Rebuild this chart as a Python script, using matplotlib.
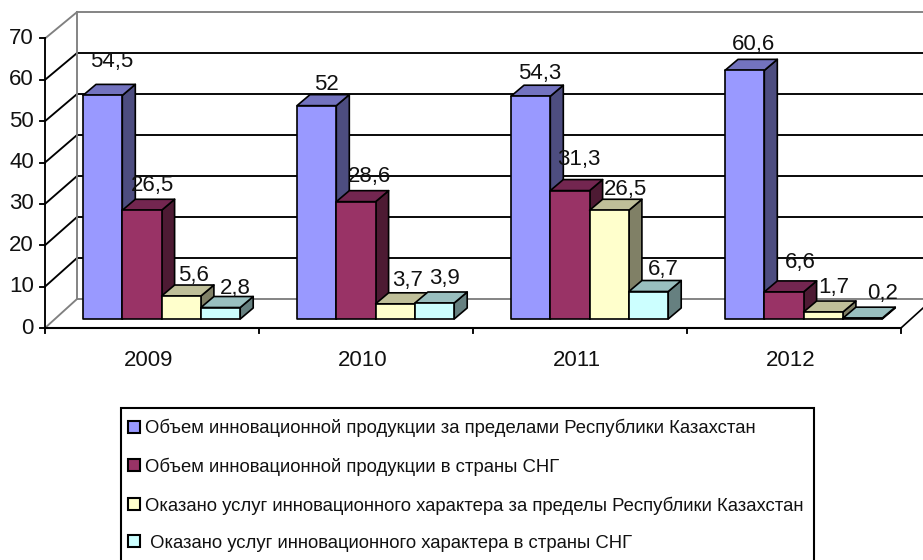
import matplotlib
matplotlib.use('Agg')
import matplotlib.pyplot as plt
from matplotlib.patches import Patch, Polygon, Rectangle

plt.rcParams['font.family'] = ['Liberation Sans', 'DejaVu Sans']

years = ['2009', '2010', '2011', '2012']
yticks = [0, 10, 20, 30, 40, 50, 60, 70]
names = ['Объем инновационной продукции за пределами Республики Казахстан',
         'Объем инновационной продукции в страны СНГ',
         'Оказано услуг инновационного характера за пределы Республики Казахстан',
         ' Оказано услуг инновационного характера в страны СНГ']
export_prod = [54.5, 52, 54.3, 60.6]
cis_prod = [26.5, 28.6, 31.3, 6.6]
export_serv = [5.6, 3.7, 26.5, 1.7]
cis_serv = [2.8, 3.9, 6.7, 0.2]
labels = [['54,5', '52', '54,3', '60,6'],
          ['26,5', '28,6', '31,3', '6,6'],
          ['5,6', '3,7', '26,5', '1,7'],
          ['2,8', '3,9', '6,7', '0,2']]
series = [export_prod, cis_prod, export_serv, cis_serv]

# front, top, side
colors = [('#9999FF', '#7373BF', '#4D4D80'),
          ('#993366', '#732650', '#4D1A33'),
          ('#FFFFCC', '#BFBF99', '#808066'),
          ('#CCFFFF', '#99BFBF', '#668080')]

# label shift in pixels, from the top of each bar
shift_x = [[3, 3, 3, 2], [4, 7, 2, 10], [6, 6, 10, 4], [8, 3, 8, 14]]
shift_y = [[23, 10, 12, 15], [14, 14, 20, 18], [10, 12, 10, 14], [8, 13, 11, 14]]

PX_X = 214.0
PX_Y = 4.136
wall_dx = 32 / PX_X
wall_dy = 29 / PX_Y
wall_k = 0.991
bar_k = 0.992
front_dx = 9.65 / PX_X
front_dy = 9 / PX_Y
depth_x = 13 / PX_X
depth_y = 11 / PX_Y
bar_w = 39.3 / PX_X
gap = 0.1325
text_c = '#111111'

fig = plt.figure(figsize=(9.23, 5.6), dpi=100)
ax = fig.add_axes([0, 0, 1, 1])
ax.set_xlim(-45 / PX_X, (923 - 45) / PX_X)
ax.set_ylim(-(560 - 328) / PX_Y, 328 / PX_Y)
ax.axis('off')

# walls and grid
for v in yticks:
    c = '#808080' if v in (0, 70) else 'black'
    back = v * wall_k + wall_dy
    ax.plot([wall_dx, 4 + wall_dx], [back, back], color=c, lw=1.35, zorder=1)
    ax.plot([0, wall_dx], [v, back], color=c, lw=1.35, zorder=1)
    ax.plot([-5 / PX_X, 0], [v, v], color='black', lw=1.35, zorder=2)
    ax.text(-11 / PX_X, v, str(v), ha='right', va='center', fontsize=16, color=text_c)
ax.plot([wall_dx, wall_dx], [wall_dy, 70 * wall_k + wall_dy], color='#808080', lw=1.35, zorder=1)
ax.plot([0, 0], [0, 70], color='black', lw=1.35, zorder=2)
ax.plot([0, 4], [0, 0], color='black', lw=1.5, zorder=2)
ax.plot([4, 4 + wall_dx], [0, wall_dy], color='black', lw=1.2, zorder=1)
for i in range(5):
    ax.plot([i, i], [0, -5 / PX_Y], color='black', lw=1.35, zorder=2)
for i, y in enumerate(years):
    ax.text(i + 0.5 - 3 / PX_X, -33 / PX_Y, y, ha='center', va='center', fontsize=16, color=text_c)

# bars
for i in range(len(years)):
    for j, vals in enumerate(series):
        x0 = i + gap + j * bar_w + front_dx
        x1 = x0 + bar_w
        y0 = front_dy
        y1 = front_dy + vals[i] * bar_k
        front, top, side = colors[j]
        z = 3 + i * 4 + j
        style = dict(edgecolor='black', linewidth=1.2, joinstyle='round', zorder=z)
        ax.add_patch(Polygon([(x1, y0), (x1 + depth_x, y0 + depth_y),
                              (x1 + depth_x, y1 + depth_y), (x1, y1)], facecolor=side, **style))
        ax.add_patch(Polygon([(x0, y1), (x1, y1), (x1 + depth_x, y1 + depth_y),
                              (x0 + depth_x, y1 + depth_y)], facecolor=top, **style))
        ax.add_patch(Polygon([(x0, y0), (x1, y0), (x1, y1), (x0, y1)], facecolor=front, **style))

# value labels on top of everything
for i in range(len(years)):
    for j, vals in enumerate(series):
        x = i + gap + j * bar_w + front_dx + bar_w / 2 + depth_x / 2
        y = front_dy + vals[i] * bar_k + depth_y
        ax.annotate(labels[j][i], xy=(x, y), xytext=(shift_x[j][i], shift_y[j][i]),
                    textcoords='offset pixels', ha='center', va='center',
                    fontsize=16, color=text_c, zorder=40)

# legend frame runs off the bottom of the picture
ax.add_patch(Rectangle(((121 - 45) / PX_X, (328 - 566) / PX_Y), 693 / PX_X, 158 / PX_Y,
                       facecolor='white', edgecolor='black', linewidth=1.5, zorder=50))
handles = [Patch(facecolor=c[0], edgecolor='black', linewidth=1.5) for c in colors]
leg = fig.legend(handles, names, loc='upper left', bbox_to_anchor=(128 / 923, 1 - 419 / 560),
                 bbox_transform=fig.transFigure, borderaxespad=0, borderpad=0, fontsize=13.3,
                 frameon=False, handlelength=0.65, handleheight=0.62, handletextpad=0.25,
                 labelspacing=1.1, labelcolor=text_c)
leg.set_zorder(60)

fig.savefig('out.png', dpi=100)
